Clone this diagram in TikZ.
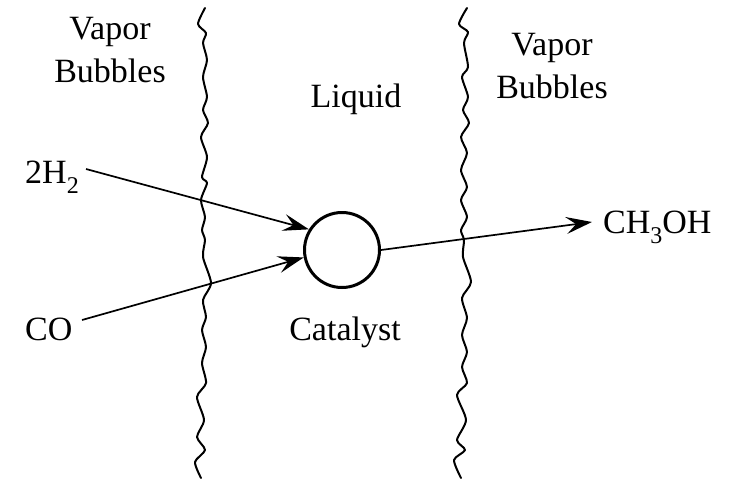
\documentclass[tikz,border=0pt]{standalone}
\usepackage{fontspec}
\setmainfont{Liberation Serif}
\usetikzlibrary{arrows.meta}
\newcommand\sbx[1]{\raisebox{-10pt}{\fontsize{24}{24}\selectfont #1}}
\begin{document}
\begin{tikzpicture}[x=1pt,y=-1pt,
  lbl/.style={font=\fontsize{34}{43}\selectfont, inner sep=0pt, align=center},
  wavy/.style={line width=2pt, line join=round, line cap=round},
  flow/.style={line width=1.7pt, -{Stealth[length=26pt,width=17pt,inset=10pt]}},
  catal/.style={draw, circle, line width=3pt, minimum size=75pt, inner sep=0pt}]
\useasboundingbox (0,0) rectangle (732,480);
% wavy boundaries
\draw[wavy] plot[smooth, tension=0.45] coordinates {(205,8) (198,24) (206,33) (203,43) (207,60) (203,77) (207,97) (203,110) (208,123) (201,137) (207,157) (202,177) (207,183) (201,200) (205,217) (202,230) (205,240) (203,257) (211,283) (203,300) (206,317) (202,330) (206,347) (202,363) (206,383) (197,397) (204,420) (197,437) (205,450) (195,462) (201,478)};
\draw[wavy] plot[smooth, tension=0.45] coordinates {(467,8) (459,24) (468,32) (464,43) (468,67) (462,77) (468,97) (463,110) (469,123) (461,137) (467,153) (461,170) (467,187) (461,200) (467,217) (461,230) (464,240) (463,257) (471,282) (462,298) (467,318) (462,335) (467,352) (462,367) (467,383) (457,395) (466,420) (457,440) (465,450) (454,460) (461,478)};
% labels
\node[lbl, anchor=base] (vl1) at (110,39) {Vapor};
\node[lbl, anchor=base] (vl2) at (110,82) {Bubbles};
\node[lbl, anchor=base] (vr1) at (552,55) {Vapor};
\node[lbl, anchor=base] (vr2) at (552,98) {Bubbles};
\node[lbl, anchor=base] (liq) at (356,107) {Liquid};
\node[lbl, anchor=base] (catl) at (345,340) {Catalyst};
\node[lbl, anchor=base west] (h2) at (25,183) {2H\sbx{2}};
\node[lbl, anchor=base west] (co) at (25,340) {CO};
\node[lbl, anchor=base west] (meoh) at (603,233) {CH\sbx{3}OH};
% catalyst
\node[catal] (cat) at (342,250) {};
% connectors
\coordinate (h2s) at (86,169);
\coordinate (cos) at (82,320);
\coordinate (outend) at (592,222);
\draw[flow] (h2s) -- (cat.148);
\draw[flow] (cos) -- (cat.191);
\draw[flow] (cat.east) -- (outend);
\end{tikzpicture}
\end{document}
